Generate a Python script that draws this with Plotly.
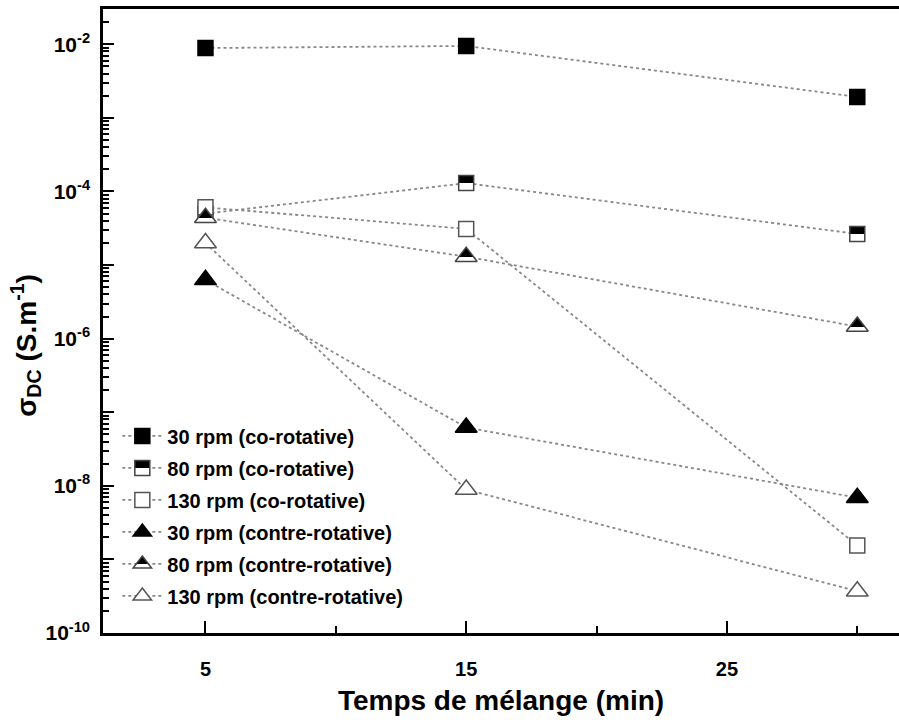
import plotly.graph_objects as go

# ---- data ----
times = [5, 15, 30]
co30 = [8.9e-3, 9.5e-3, 1.93e-3]
co80 = [5.0e-5, 1.3e-4, 2.65e-5]
co130 = [6.1e-5, 3.1e-5, 1.55e-9]
contre30 = [6.3e-6, 6.2e-8, 6.9e-9]
contre80 = [4.4e-5, 1.3e-5, 1.46e-6]
contre130 = [2.0e-5, 8.9e-9, 3.7e-10]

names = ["30 rpm (co-rotative)", "80 rpm (co-rotative)", "130 rpm (co-rotative)",
         "30 rpm (contre-rotative)", "80 rpm (contre-rotative)", "130 rpm (contre-rotative)"]
series = [co30, co80, co130, contre30, contre80, contre130]

x_major = [5, 15, 25]
x_minor = [10, 20, 30]
decades = list(range(-10, -1))  # -10 .. -2
labelled = [-10, -8, -6, -4, -2]

FONT = "Liberation Sans Narrow, Liberation Sans, Arial"

styles = [
    dict(symbol="square", size=15, color="black", line=dict(color="black", width=1.5), uid="sqf30"),
    dict(symbol="square", size=15, color="black", line=dict(color="#444", width=1.5),
         gradient=dict(type="vertical", color="white"), uid="sq80"),
    dict(symbol="square", size=15, color="white", line=dict(color="#555", width=1.5), uid="sqo130"),
    dict(symbol="triangle-up", size=19, color="black", line=dict(color="black", width=1.5), uid="trf30"),
    dict(symbol="triangle-up", size=19, color="black", line=dict(color="#444", width=1.5),
         gradient=dict(type="vertical", color="white"), uid="tri80"),
    dict(symbol="triangle-up", size=19, color="white", line=dict(color="#555", width=1.5), uid="tro130"),
]

fig = go.Figure()
for i, (nm, ys, st) in enumerate(zip(names, series, styles)):
    st = dict(st)
    uid = st.pop("uid")
    fig.add_trace(go.Scatter(
        x=times, y=ys, name=nm, uid=uid, legendgroup=f"g{i}",
        mode="lines+markers",
        line=dict(color="#888", width=1.8, dash="dot"),
        marker=st,
    ))

ytickvals = [10.0 ** d for d in decades]
yticktext = [f"10<sup>{d}</sup>" if d in labelled else "" for d in decades]
yminor = [m * 10.0 ** d for d in decades for m in range(2, 10)]

fig.update_layout(
    width=899, height=720,
    margin=dict(l=103, r=0, t=9, b=87),
    paper_bgcolor="white", plot_bgcolor="white",
    font=dict(family=FONT, size=19, color="black", weight="bold"),
    showlegend=True,
    legend=dict(x=0.018, y=0.347, xanchor="left", yanchor="top",
                bgcolor="rgba(0,0,0,0)", tracegroupgap=3,
                font=dict(family=FONT, size=20, weight="bold"), itemwidth=40),
    xaxis=dict(
        range=[1.07, 31.6], tickmode="array", tickvals=x_major,
        ticktext=[str(v) for v in x_major],
        ticks="inside", ticklen=12, tickwidth=2, tickcolor="black",
        minor=dict(tickmode="array", tickvals=x_minor, ticklen=7, tickwidth=2, tickcolor="black", ticks="inside"),
        showline=True, linewidth=2.5, linecolor="black", mirror=True,
        showgrid=False, zeroline=False, ticklabelstandoff=16,
        tickfont=dict(family=FONT, size=20, weight="bold"),
        title=dict(text="Temps de mélange (min)", standoff=12,
                   font=dict(family=FONT, size=28, weight="bold")),
    ),
    yaxis=dict(
        type="log", range=[-10, -1.52], tickmode="array", tickvals=ytickvals, ticktext=yticktext,
        ticks="inside", ticklen=11, tickwidth=2, tickcolor="black",
        minor=dict(tickmode="array", tickvals=yminor, ticklen=6, tickwidth=1.5, tickcolor="black", ticks="inside"),
        showline=True, linewidth=2.5, linecolor="black", mirror=False,
        showgrid=False, zeroline=False, ticklabelstandoff=6,
        tickfont=dict(family=FONT, size=21, weight="bold"),
    ),
    annotations=[dict(
        text="σ<sub>DC</sub> (S.m<sup>-1</sup>)", textangle=-90,
        xref="paper", yref="paper", x=-0.097, y=0.4615,
        xanchor="center", yanchor="middle", showarrow=False,
        font=dict(family=FONT, size=28, weight="bold"),
    )],
)

post = """
function fixGrad(){
  var gs = document.querySelectorAll('linearGradient');
  gs.forEach(function(g){
    var off = (g.id.indexOf('tri') >= 0) ? '33%' : '50%';
    g.querySelectorAll('stop').forEach(function(s){ s.setAttribute('offset', off); });
  });
}
fixGrad();
setTimeout(fixGrad, 50);
"""

fig.write_html("out.html", post_script=post)
